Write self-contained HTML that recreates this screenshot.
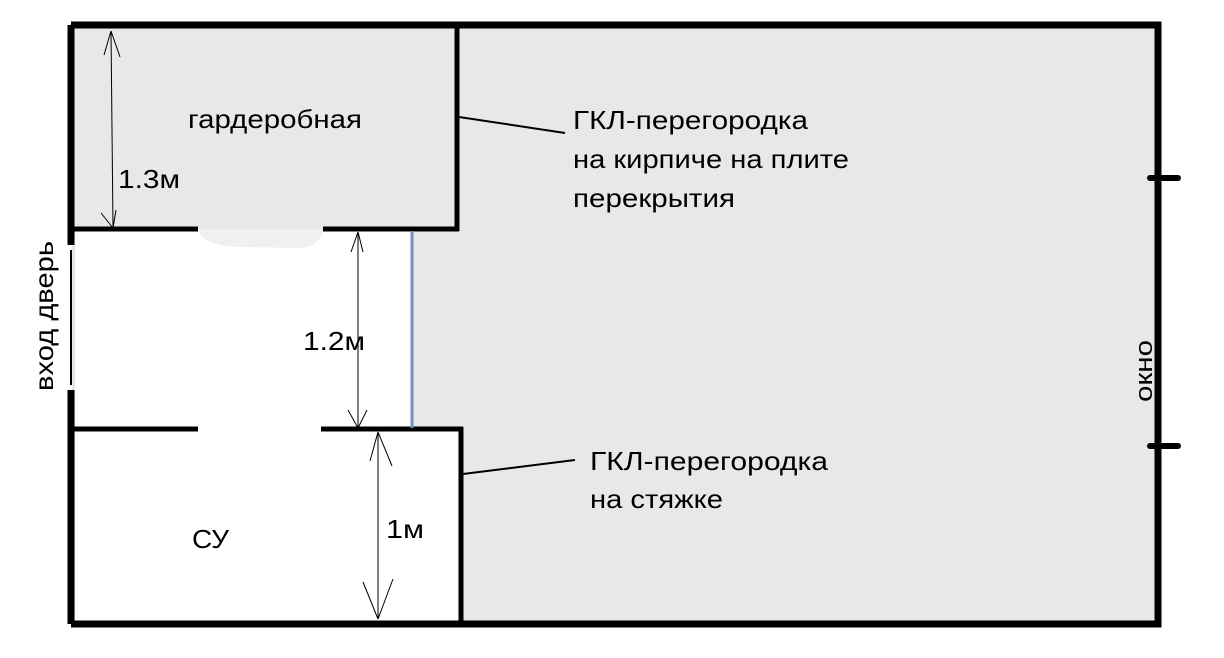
<!DOCTYPE html>
<html><head><meta charset="utf-8"><style>
body{margin:0;background:#fff;}
svg{display:block}
text{font-family:"Liberation Sans","DejaVu Sans",sans-serif;font-size:26px;fill:#000}
</style></head><body>
<svg width="1224" height="658" viewBox="0 0 1224 658">
<rect x="72" y="26" width="1086" height="598" fill="#e8e8e8"/>
<rect x="75" y="231" width="337" height="200" fill="#fff"/>
<rect x="75" y="427" width="386" height="195" fill="#fff"/>
<path d="M198 229 Q200 245 240 247 L300 248 Q322 246 323 229 Z" fill="#f0f0f0"/>
<g stroke="#000" fill="none">
<path d="M71 25 H1158 V624 H71" stroke-width="7"/>
<path d="M71 25 V245 M71 390 V624" stroke-width="7"/>
<path d="M71 250 V385" stroke-width="2"/>
<path d="M457 27 V231 M68 229 H198 M323 229 H459" stroke-width="5"/>
<path d="M68 429 H198 M321 429 H463 M461 427 V622" stroke-width="5"/>
<path d="M1150 178 H1178 M1150 446 H1178" stroke-width="6" stroke-linecap="round"/>
<path d="M459 117 L565 133 M463 474 L575 460" stroke-width="2"/>
<g stroke-width="1">
<path d="M111 31 L113 228 M111 31 L104 55 M111 31 L120 57 M113 228 L101 213 M113 228 L116 210"/>
<path d="M358 232 L358 428 M358 232 L351 252 M358 232 L363 252 M358 428 L348 410 M358 428 L367 410"/>
<path d="M378 432 L378 619 M378 432 L370 461 M378 432 L392 466 M378 619 L363 582 M378 619 L393 579"/>
</g>
</g>
<path d="M412 231 V428" stroke="#7191c0" stroke-width="3"/>
<text x="188" y="128" textLength="174" lengthAdjust="spacingAndGlyphs">гардеробная</text>
<text x="118" y="188" textLength="62" lengthAdjust="spacingAndGlyphs">1.3м</text>
<text x="303" y="350" textLength="62" lengthAdjust="spacingAndGlyphs">1.2м</text>
<text x="386" y="538" textLength="38" lengthAdjust="spacingAndGlyphs">1м</text>
<text x="192" y="548" textLength="37" lengthAdjust="spacingAndGlyphs">СУ</text>
<text x="573" y="129" textLength="235" lengthAdjust="spacingAndGlyphs">ГКЛ-перегородка</text>
<text x="573" y="168" textLength="276" lengthAdjust="spacingAndGlyphs">на кирпиче на плите</text>
<text x="573" y="207" textLength="162" lengthAdjust="spacingAndGlyphs">перекрытия</text>
<text x="590" y="470" textLength="238" lengthAdjust="spacingAndGlyphs">ГКЛ-перегородка</text>
<text x="590" y="508" textLength="133" lengthAdjust="spacingAndGlyphs">на стяжке</text>
<text transform="translate(53,391) rotate(-90)" textLength="150" lengthAdjust="spacingAndGlyphs">вход дверь</text>
<text transform="translate(1152,402) rotate(-90)" style="font-size:24px" textLength="62" lengthAdjust="spacingAndGlyphs">окно</text>
</svg>
</body></html>
